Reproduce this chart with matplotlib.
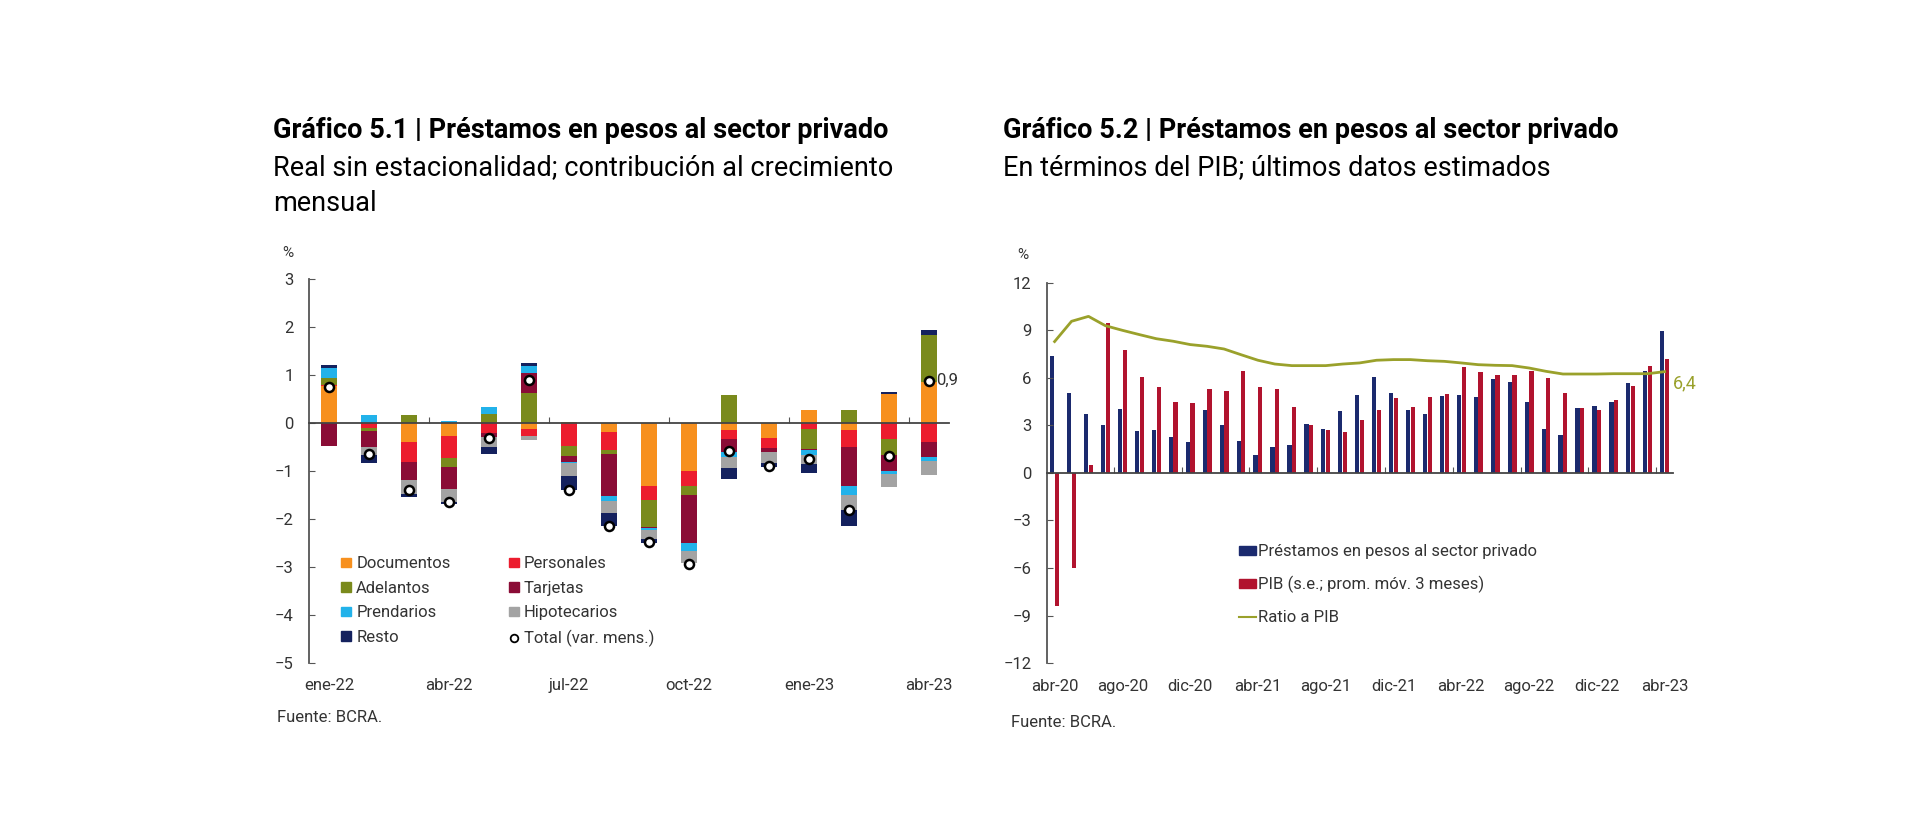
import numpy as np
import matplotlib
matplotlib.use('Agg')
import matplotlib.pyplot as plt
from matplotlib.patches import Patch
from matplotlib.lines import Line2D

plt.rcParams['font.family'] = ['Roboto', 'DejaVu Sans']

# ---- data for chart 5.1 (monthly contribution, %) ----
meses_1 = ['ene-22', 'feb-22', 'mar-22', 'abr-22', 'may-22', 'jun-22', 'jul-22', 'ago-22',
           'sep-22', 'oct-22', 'nov-22', 'dic-22', 'ene-23', 'feb-23', 'mar-23', 'abr-23']
documentos = [0.78, 0, -0.40, -0.28, 0, -0.12, 0.02, -0.19, -1.32, -1.01, -0.14, -0.31, 0.28, -0.14, 0.60, 0.85]
personales = [0.02, -0.10, -0.42, -0.44, -0.21, -0.16, -0.47, -0.38, -0.28, -0.31, -0.19, -0.22, -0.12, -0.37, -0.33, -0.40]
adelantos = [0.14, -0.06, 0.16, -0.19, 0.18, 0.63, -0.21, -0.08, -0.56, -0.17, 0.58, 0, -0.42, 0.28, -0.33, 0.99]
tarjetas = [-0.47, -0.35, -0.37, -0.47, -0.08, 0.42, -0.14, -0.88, -0.03, -1.01, -0.28, -0.08, -0.03, -0.81, -0.35, -0.30]
prendarios = [0.20, 0.17, 0, 0.04, 0.15, 0.13, -0.02, -0.10, -0.03, -0.17, -0.09, 0, -0.10, -0.19, -0.05, -0.10]
hipotecarios = [0, -0.16, -0.28, -0.26, -0.21, -0.08, -0.26, -0.25, -0.19, -0.25, -0.24, -0.23, -0.19, -0.30, -0.28, -0.28]
resto = [0.07, -0.16, -0.08, -0.05, -0.14, 0.07, -0.30, -0.26, -0.10, 0, -0.22, -0.07, -0.19, -0.33, 0.05, 0.10]
total = [0.75, -0.65, -1.39, -1.64, -0.32, 0.89, -1.39, -2.15, -2.48, -2.93, -0.58, -0.90, -0.76, -1.82, -0.69, 0.88]
etiquetas_1 = ['ene-22', 'abr-22', 'jul-22', 'oct-22', 'ene-23', 'abr-23']

# ---- data for chart 5.2 (% of GDP) ----
meses_2 = ['abr-20', 'may-20', 'jun-20', 'jul-20', 'ago-20', 'sep-20', 'oct-20', 'nov-20', 'dic-20',
           'ene-21', 'feb-21', 'mar-21', 'abr-21', 'may-21', 'jun-21', 'jul-21', 'ago-21', 'sep-21',
           'oct-21', 'nov-21', 'dic-21', 'ene-22', 'feb-22', 'mar-22', 'abr-22', 'may-22', 'jun-22',
           'jul-22', 'ago-22', 'sep-22', 'oct-22', 'nov-22', 'dic-22', 'ene-23', 'feb-23', 'mar-23', 'abr-23']
prestamos = [7.41, 5.05, 3.73, 3.05, 4.04, 2.63, 2.74, 2.25, 1.96, 3.96, 3.01, 2.0, 1.12, 1.64, 1.79, 3.09,
             2.78, 3.89, 4.9, 6.06, 5.05, 4.0, 3.73, 4.84, 4.9, 4.8, 5.96, 5.77, 4.46, 2.8, 2.38, 4.1,
             4.25, 4.48, 5.68, 6.42, 8.99]
pib = [-8.4, -6.0, 0.48, 9.47, 7.75, 6.06, 5.41, 4.48, 4.42, 5.31, 5.2, 6.46, 5.41, 5.31, 4.15, 3.03,
       2.69, 2.57, 3.37, 4.0, 4.72, 4.17, 4.8, 5.01, 6.69, 6.36, 6.21, 6.17, 6.42, 5.98, 5.03, 4.1,
       3.98, 4.59, 5.47, 6.78, 7.22]
ratio_pib = [8.3, 9.58, 9.89, 9.3, 9.01, 8.74, 8.48, 8.32, 8.11, 8.0, 7.83, 7.47, 7.12, 6.88, 6.78, 6.78,
             6.78, 6.88, 6.95, 7.12, 7.16, 7.16, 7.09, 7.05, 6.95, 6.84, 6.8, 6.78, 6.63, 6.42, 6.25, 6.25,
             6.25, 6.27, 6.27, 6.27, 6.4]
etiquetas_2 = ['abr-20', 'ago-20', 'dic-20', 'abr-21', 'ago-21', 'dic-21', 'abr-22', 'ago-22', 'dic-22', 'abr-23']

# colours
colores_1 = {'Documentos': '#F7901E', 'Personales': '#EC1C2E', 'Adelantos': '#7A8A1C',
             'Tarjetas': '#8A0C36', 'Prendarios': '#22B2EA', 'Hipotecarios': '#A3A3A3', 'Resto': '#14215E'}
azul = '#1B2A6E'
rojo = '#B1132E'
oliva = '#9AA12B'
gris_txt = '#333333'

fig = plt.figure(figsize=(19.2, 8.32), dpi=100)

# ================= chart 5.1 =================
ax1 = fig.add_axes([0.1609, 0.2031, 0.3334, 0.4616])
x1 = np.arange(len(meses_1))
series = [documentos, personales, adelantos, tarjetas, prendarios, hipotecarios, resto]
nombres = list(colores_1.keys())
pos_base = np.zeros(len(x1))
neg_base = np.zeros(len(x1))
for nombre, valores in zip(nombres, series):
    v = np.array(valores)
    pos = np.where(v > 0, v, 0)
    neg = np.where(v < 0, v, 0)
    ax1.bar(x1, pos, 0.38, bottom=pos_base, color=colores_1[nombre], linewidth=0)
    ax1.bar(x1, neg, 0.38, bottom=neg_base, color=colores_1[nombre], linewidth=0)
    pos_base += pos
    neg_base += neg

ax1.plot(x1, total, 'o', markerfacecolor='white', markeredgecolor='black',
         markersize=6.5, markeredgewidth=1.8, zorder=5)
ax1.annotate('0,9', (x1[-1], total[-1]), xytext=(5, 0), textcoords='offset points',
             va='center', ha='left', fontsize=12, color=gris_txt)

ax1.set_xlim(-0.5, 15.5)
ax1.set_ylim(-5, 3)
ax1.set_yticks(range(-5, 4))
ax1.set_xticks([2.5, 5.5, 8.5, 11.5, 14.5])
ax1.set_xticklabels([])
ax1.spines['bottom'].set_position(('data', 0))
ax1.spines['top'].set_visible(False)
ax1.spines['right'].set_visible(False)
ax1.spines['left'].set_color('#555555')
ax1.spines['bottom'].set_color('#444444')
ax1.spines['left'].set_linewidth(1.3)
ax1.spines['bottom'].set_linewidth(1.3)
ax1.tick_params(axis='y', direction='in', length=4, color='#555555', labelsize=12,
                labelcolor=gris_txt, pad=11)
ax1.tick_params(axis='x', direction='in', length=4, color='#555555')
for lab in etiquetas_1:
    i = meses_1.index(lab)
    ax1.text(i, -5.46, lab, ha='center', va='center', fontsize=12, color=gris_txt, clip_on=False)

handles_1 = [Patch(color=colores_1[n]) for n in ['Documentos', 'Adelantos', 'Prendarios', 'Resto',
                                                   'Personales', 'Tarjetas', 'Hipotecarios']]
handles_1.append(Line2D([], [], marker='o', linestyle='', markerfacecolor='white',
                        markeredgecolor='black', markersize=5.5, markeredgewidth=1.3))
labels_1 = ['Documentos', 'Adelantos', 'Prendarios', 'Resto', 'Personales', 'Tarjetas',
            'Hipotecarios', 'Total (var. mens.)']
ax1.legend(handles_1, labels_1, ncol=2, frameon=False, loc='upper left',
           bbox_to_anchor=(0.1734, 0.3413), bbox_transform=fig.transFigure,
           borderpad=0, handlelength=0.6, handleheight=0.5, handletextpad=0.3,
           labelspacing=0.57, columnspacing=3.5, fontsize=12, labelcolor=gris_txt)

fig.text(0.150, 0.696, '%', ha='center', va='center', fontsize=11, color=gris_txt)
fig.text(0.1422, 0.8337, 'Gráfico 5.1 | Préstamos en pesos al sector privado',
         fontsize=19.5, fontweight='bold', color='black', va='baseline')
fig.text(0.1422, 0.7897, 'Real sin estacionalidad; contribución al crecimiento',
         fontsize=19.5, color='black', va='baseline')
fig.text(0.1422, 0.7464, 'mensual', fontsize=19.5, color='black', va='baseline')
fig.text(0.1443, 0.138, 'Fuente: BCRA.', fontsize=12, color=gris_txt, va='center')

# ================= chart 5.2 =================
ax2 = fig.add_axes([0.5453, 0.2031, 0.3261, 0.4568])
x2 = np.arange(len(meses_2))
ax2.bar(x2 - 0.14, prestamos, 0.25, color=azul, linewidth=0,
        label='Préstamos en pesos al sector privado')
ax2.bar(x2 + 0.14, pib, 0.25, color=rojo, linewidth=0,
        label='PIB (s.e.; prom. móv. 3 meses)')
ax2.plot(x2, ratio_pib, color=oliva, linewidth=2, label='Ratio a PIB')
ax2.annotate('6,4', (x2[-1], ratio_pib[-1]), xytext=(6, -8.5), textcoords='offset points',
             va='center', ha='left', fontsize=13, color=oliva)

ax2.set_xlim(-0.45, 36.5)
ax2.set_ylim(-12, 12)
ax2.set_yticks(range(-12, 13, 3))
ax2.set_xticks([3.5 + 4 * k for k in range(9)])
ax2.set_xticklabels([])
ax2.spines['bottom'].set_position(('data', 0))
ax2.spines['top'].set_visible(False)
ax2.spines['right'].set_visible(False)
ax2.spines['left'].set_color('#555555')
ax2.spines['bottom'].set_color('#444444')
ax2.spines['left'].set_linewidth(1.3)
ax2.spines['bottom'].set_linewidth(1.3)
ax2.tick_params(axis='y', direction='in', length=4, color='#555555', labelsize=12,
                labelcolor=gris_txt, pad=11)
ax2.tick_params(axis='x', direction='in', length=4, color='#555555')
for lab in etiquetas_2:
    i = meses_2.index(lab)
    ax2.text(i, -13.5, lab, ha='center', va='center', fontsize=12, color=gris_txt, clip_on=False)

handles_2 = [Patch(color=azul), Patch(color=rojo), Line2D([], [], color=oliva, linewidth=1.5)]
ax2.legend(handles_2, ['Préstamos en pesos al sector privado', 'PIB (s.e.; prom. móv. 3 meses)',
                       'Ratio a PIB'], frameon=False, loc='upper left',
           bbox_to_anchor=(0.6412, 0.3558), bbox_transform=fig.transFigure,
           borderpad=0, handlelength=1.0, handleheight=0.5, handletextpad=0.1,
           labelspacing=1.0, fontsize=12, labelcolor=gris_txt)

fig.text(0.5328, 0.6935, '%', ha='center', va='center', fontsize=11, color=gris_txt)
fig.text(0.5224, 0.8337, 'Gráfico 5.2 | Préstamos en pesos al sector privado',
         fontsize=19.5, fontweight='bold', color='black', va='baseline')
fig.text(0.5224, 0.7897, 'En términos del PIB; últimos datos estimados',
         fontsize=19.5, color='black', va='baseline')
fig.text(0.5266, 0.132, 'Fuente: BCRA.', fontsize=12, color=gris_txt, va='center')

fig.savefig('out.png', dpi=100, facecolor='white')
